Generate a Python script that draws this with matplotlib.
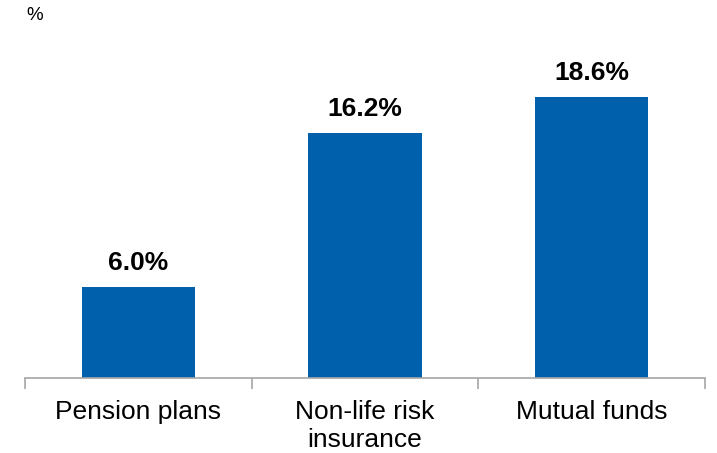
import matplotlib

matplotlib.use("Agg")
import matplotlib.pyplot as plt

categories = ["Pension plans", "Non-life risk\ninsurance", "Mutual funds"]
values = [6.0, 16.2, 18.6]
value_labels = ["6.0%", "16.2%", "18.6%"]

BAR_COLOR = "#0060AC"
AXIS_COLOR = "#A6A6A6"

plt.rcParams["font.family"] = ["Liberation Sans", "DejaVu Sans"]

fig = plt.figure(figsize=(7.17, 4.53), dpi=100)
ax = fig.add_axes([25 / 717, 75 / 453, 680 / 717, 302 / 453])

positions = list(range(len(categories)))
bars = ax.bar(positions, values, width=0.5, color=BAR_COLOR)

for bar, label in zip(bars, value_labels):
    ax.annotate(label, (bar.get_x() + bar.get_width() / 2, bar.get_height()),
                xytext=(0, 9), textcoords="offset points",
                ha="center", va="bottom", fontsize=19, fontweight="bold")

ax.set_xlim(-0.5, len(categories) - 0.5)
ax.set_ylim(0, 20)

for side in ("left", "right", "top"):
    ax.spines[side].set_visible(False)
ax.spines["bottom"].set_color(AXIS_COLOR)
ax.spines["bottom"].set_linewidth(1.2)
ax.set_yticks([])

# category boundaries carry the tick marks; labels sit at the bar centres
ax.set_xticks([p - 0.5 for p in positions] + [len(categories) - 0.5])
ax.set_xticklabels([])
ax.tick_params(axis="x", length=8, width=1.2, color=AXIS_COLOR)
for p, cat in zip(positions, categories):
    ax.annotate(cat, (p, 0), xytext=(0, -16), textcoords="offset points",
                ha="center", va="top", fontsize=19, linespacing=1.2)

fig.text(26 / 717, 1 - 16 / 453, "%", ha="left", va="center", fontsize=13.5)

fig.savefig("out.png", dpi=100)
